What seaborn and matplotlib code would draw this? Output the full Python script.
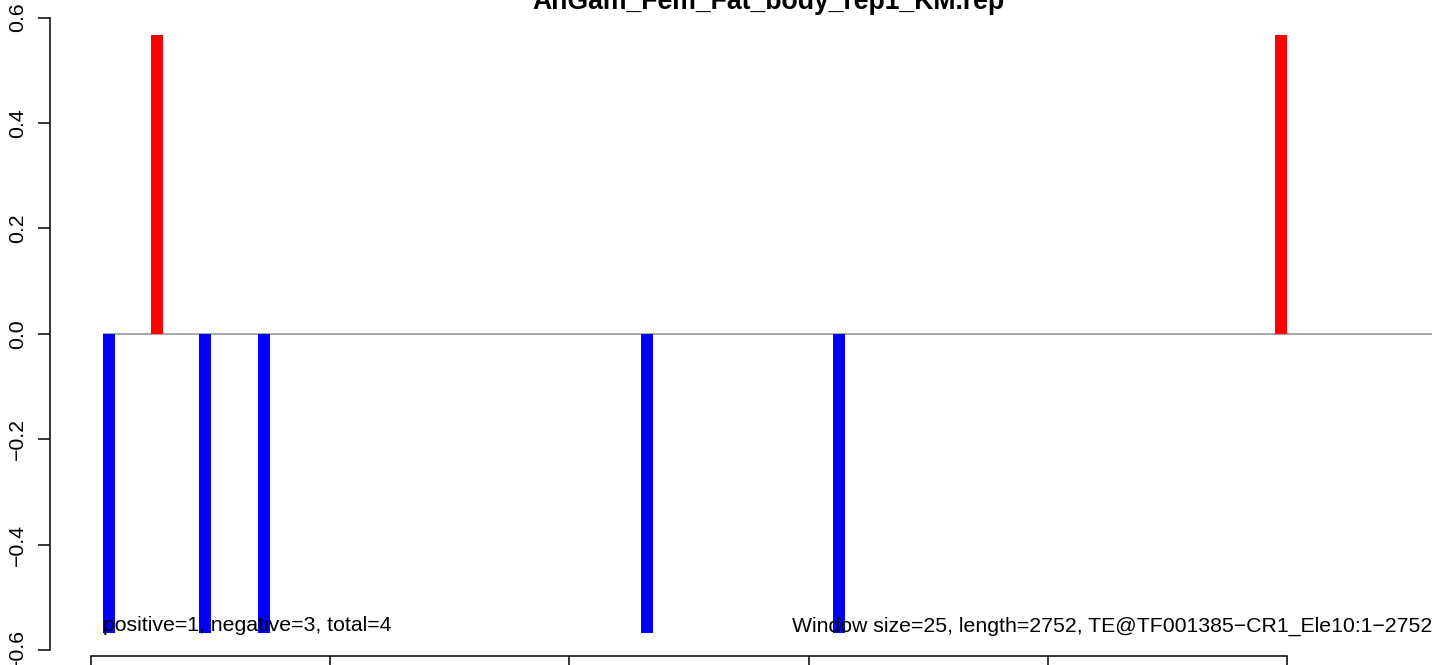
"""
Barras por janela (TE@TF001385-CR1_Ele10), estilo plot base do R.
"""

import pandas as pd
import matplotlib
matplotlib.use("Agg")
import matplotlib.pyplot as plt
import seaborn as sns

TITULO = "AnGam_Fem_Fat_body_rep1_KM.rep"
JANELA = 25
COMPRIMENTO = 2752

# início de cada janela com sinal
inicio_janelas = [25, 125, 225, 350, 1150, 1550, 2475]
valores = [-0.567, 0.567, -0.567, -0.567, -0.567, -0.567, 0.567]
sinal = ["neg", "pos", "neg", "neg", "neg", "neg", "pos"]

x_ticks = [0, 500, 1000, 1500, 2000, 2500]
y_ticks = [-0.6, -0.4, -0.2, 0.0, 0.2, 0.4, 0.6]

texto_esq = "positive=1, negative=3, total=4"
texto_dir = "Window size=25, length=2752, TE@TF001385\u2212CR1_Ele10:1\u22122752"

W, H = 1444, 665


def montar_df():
    df = pd.DataFrame({"inicio": inicio_janelas, "valor": valores, "sinal": sinal})
    df["centro"] = df["inicio"] + JANELA / 2
    return df


def plot_barras(df):
    sns.set_style("ticks")
    plt.rcParams["font.family"] = ["Liberation Sans", "DejaVu Sans"]
    plt.rcParams["text.color"] = "black"
    plt.rcParams["xtick.color"] = "black"
    plt.rcParams["ytick.color"] = "black"
    fig = plt.figure(figsize=(W / 100, H / 100), dpi=100)
    ax = fig.add_axes([50 / W, (H - 655.7) / H, (1432 - 50) / W, (655.7 - 11.2) / H])

    xmax = 2803
    ax.hlines(0, inicio_janelas[0], xmax, color="#a0a0a0", lw=1.3, zorder=1)

    sns.barplot(data=df, x="centro", y="valor", hue="sinal", native_scale=True,
                palette={"pos": "#ff0000", "neg": "#0000ff"}, width=0.25,
                dodge=False, errorbar=None, legend=False, saturation=1,
                linewidth=0, ax=ax, zorder=2)

    ax.set_xlim(-85.7, xmax)
    ax.set_ylim(-0.611, 0.612)
    ax.set_xticks(x_ticks)
    ax.set_yticks(y_ticks)
    ax.set_yticklabels([f"{t:.1f}".replace("-", "\u2212") for t in y_ticks])
    for lbl in ax.get_yticklabels():
        lbl.set_rotation(90)
        lbl.set_va("center")
        lbl.set_color("black")
    ax.tick_params(axis="both", length=8.6, width=1.1, labelsize=15.3, pad=8,
                   color="black", labelcolor="black")
    # os rótulos do eixo x ficam fora da imagem na referência
    ax.tick_params(axis="x", labelbottom=False)
    ax.set_xlabel("")
    ax.set_ylabel("")
    for s in ["top", "right"]:
        ax.spines[s].set_visible(False)
    ax.spines["left"].set_bounds(y_ticks[0], y_ticks[-1])
    ax.spines["bottom"].set_bounds(x_ticks[0], x_ticks[-1])
    for s in ["left", "bottom"]:
        ax.spines[s].set_linewidth(1.1)
        ax.spines[s].set_color("black")

    ax.text(inicio_janelas[0], -0.565, texto_esq, fontsize=15.3, ha="left",
            va="baseline", color="black")
    ax.text(xmax, -0.565, texto_dir, fontsize=15.3, ha="right", va="baseline",
            color="black")

    fig.text(768 / W, 1 - 9 / H, TITULO, fontsize=19.2, fontweight="bold",
             ha="center", va="baseline", color="black")

    fig.savefig("out.png", dpi=100)
    plt.close(fig)


if __name__ == "__main__":
    plot_barras(montar_df())
